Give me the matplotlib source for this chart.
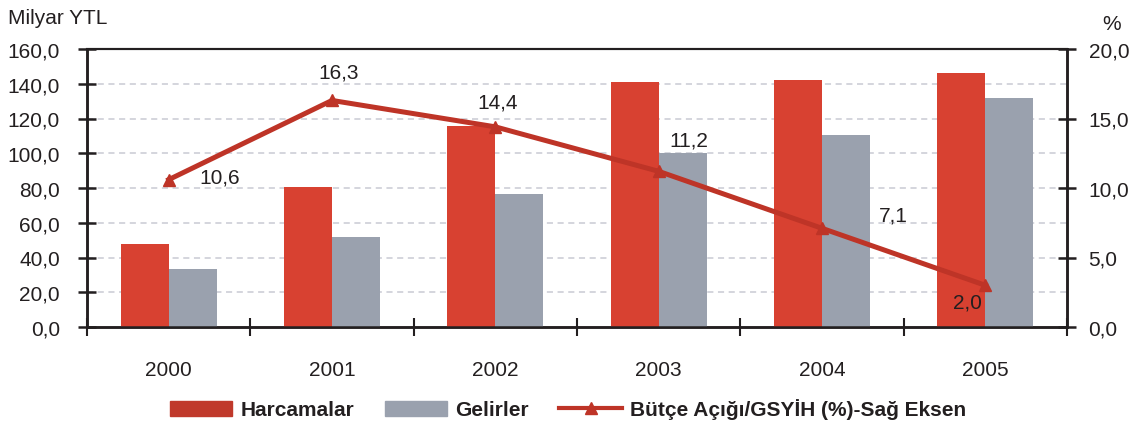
import numpy as np
import matplotlib.pyplot as plt
from matplotlib.lines import Line2D
from matplotlib.patches import Patch

plt.rcParams['font.family'] = ['Liberation Sans', 'DejaVu Sans']

# data
years = ['2000', '2001', '2002', '2003', '2004', '2005']
harcamalar = [47.8, 80.6, 115.7, 141.0, 142.2, 146.2]
gelirler = [33.4, 51.8, 76.5, 100.1, 110.5, 131.8]
butce_acigi = [10.6, 16.3, 14.4, 11.2, 7.1, 3.0]
butce_labels = ['10,6', '16,3', '14,4', '11,2', '7,1', '2,0']

red = '#D84131'
gray = '#9AA1AE'
line_red = '#BE3427'
dark = '#231F20'

fig = plt.figure(figsize=(11.38, 4.27), dpi=100)
ax = fig.add_axes([87/1138, 1-328/427, 980/1138, 278/427])
ax2 = ax.twinx()

x = np.arange(len(years)) + 0.5
w = 0.294
ax.bar(x - w/2, harcamalar, w, color=red, zorder=3)
ax.bar(x + w/2, gelirler, w, color=gray, zorder=3)

ax.set_xlim(0, len(years))
ax.set_ylim(0, 160)
ax.set_yticks(np.arange(0, 161, 20))
ax.set_yticklabels([f'{v:.1f}'.replace('.', ',') for v in np.arange(0, 161, 20)])
for v in np.arange(20, 160, 20):
    ax.axhline(v, color='#C9CAD3', lw=1.1, dashes=(4, 3), zorder=1)

ax.set_xticks(np.arange(0, len(years)+1))
ax.set_xticklabels([])
ax.set_xticks(x, minor=True)
ax.set_xticklabels(years, minor=True)
ax.tick_params(axis='x', which='major', direction='inout', length=13, width=1.5, color=dark)
ax.tick_params(axis='x', which='minor', length=0, pad=24, labelsize=15, labelcolor=dark)
ax.tick_params(axis='y', direction='inout', length=13, width=1.8, color=dark,
               labelsize=15, labelcolor=dark, pad=13)

ax2.plot(x, butce_acigi, color=line_red, lw=3.6, marker='^', ms=9, zorder=5)
ax2.set_ylim(0, 20)
ax2.set_yticks(np.arange(0, 21, 5))
ax2.set_yticklabels([f'{v:.1f}'.replace('.', ',') for v in np.arange(0, 21, 5)])
ax2.tick_params(axis='y', direction='inout', length=13, width=1.8, color=dark,
                labelsize=15, labelcolor=dark, pad=9)

offsets = [(51, 3), (7, 28), (2, 25), (30, 31), (71, 13), (-18, -17)]
for xi, yi, lab, off in zip(x, butce_acigi, butce_labels, offsets):
    ax2.annotate(lab, (xi, yi), xytext=off, textcoords='offset pixels',
                 ha='center', va='center', fontsize=15, color=dark)

for a in (ax, ax2):
    for s in a.spines.values():
        s.set_color(dark)
        s.set_linewidth(1.8)
    a.spines['top'].set_linewidth(1.5)

fig.text(8/1138, 1-18/427, 'Milyar YTL', fontsize=15, color=dark, va='center', ha='left')
fig.text(1112/1138, 1-24/427, '%', fontsize=15, color=dark, va='center', ha='center')

handles = [Patch(color='#C0392B'), Patch(color=gray),
           Line2D([], [], color=line_red, lw=3, marker='^', ms=9)]
labels = ['Harcamalar', 'Gelirler', 'Bütçe Açığı/GSYİH (%)-Sağ Eksen']
leg = fig.legend(handles, labels, loc='center', bbox_to_anchor=(568/1138, 1-410/427),
                 ncol=3, frameon=False, handlelength=3.0, handleheight=0.75,
                 handletextpad=0.4, columnspacing=1.45,
                 prop={'weight': 'bold', 'size': 15})
for t in leg.get_texts():
    t.set_color(dark)

fig.savefig('out.png', dpi=100)
